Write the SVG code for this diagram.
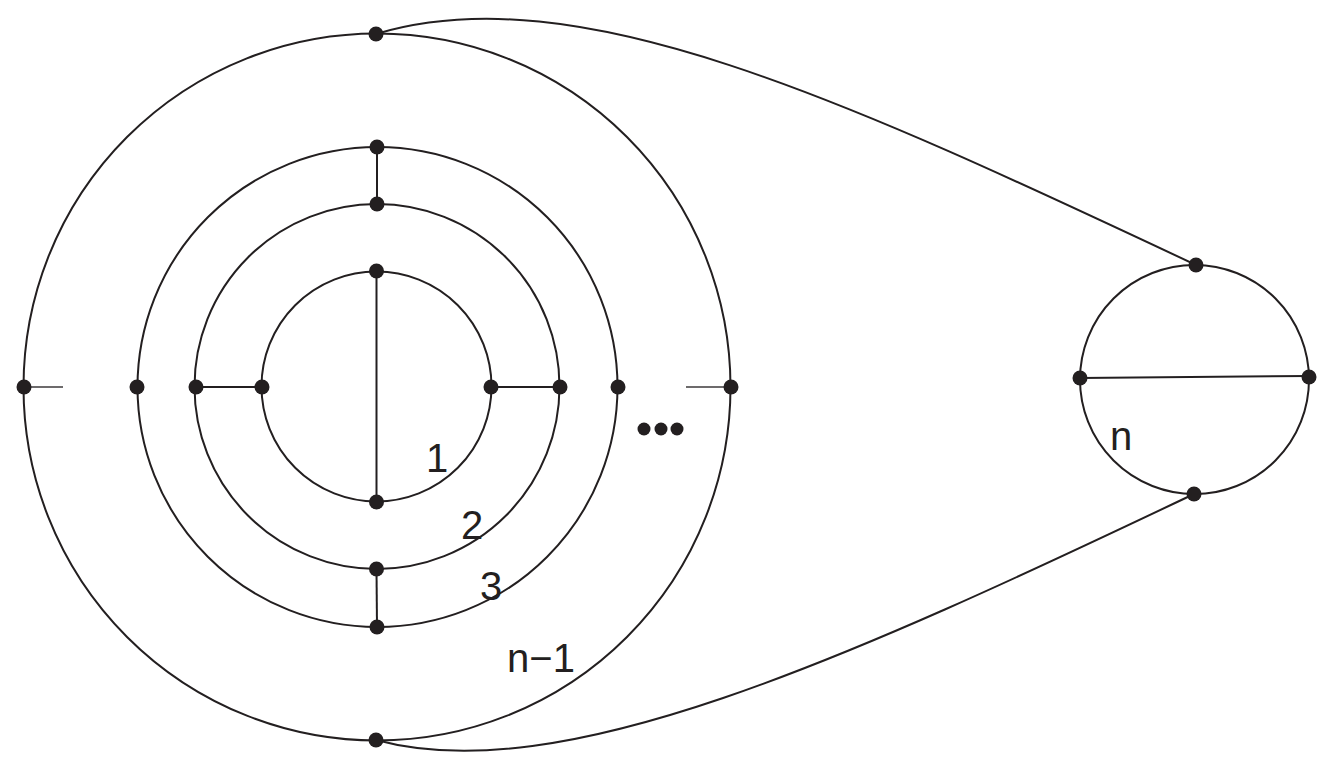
<svg xmlns="http://www.w3.org/2000/svg" width="1334" height="773" viewBox="0 0 1334 773">
<style>
.ring{fill:none;stroke:#231f20;stroke-width:2}
.edge{fill:none;stroke:#231f20;stroke-width:2}
.stub{fill:none;stroke:#6d6b6c;stroke-width:2}
.dot{fill:#231f20}
.lbl{font-family:"Liberation Sans",Arial,sans-serif;font-size:40px;fill:#231f20;text-anchor:middle}
</style>
<rect width="1334" height="773" fill="#fff"/>
<g id="rings">
<circle id="ring1" class="ring" cx="376.5" cy="386.5" r="115"/>
<circle id="ring2" class="ring" cx="377" cy="386.5" r="182.5"/>
<circle id="ring3" class="ring" cx="377.5" cy="387" r="240"/>
<circle id="ringn1" class="ring" cx="377" cy="387" r="353.5"/>
<circle id="ringn" class="ring" cx="1194.5" cy="379.5" r="114.5"/>
</g>
<g id="connectors">
<line class="edge" x1="376.5" y1="271" x2="376.5" y2="502"/>
<line class="edge" x1="196" y1="387" x2="262" y2="387"/>
<line class="edge" x1="491" y1="387" x2="560" y2="387"/>
<line class="edge" x1="377" y1="147" x2="377" y2="204"/>
<line class="edge" x1="376.5" y1="569" x2="377" y2="627"/>
<line class="stub" x1="24" y1="387" x2="63" y2="387"/>
<line class="stub" x1="686" y1="387" x2="731" y2="387"/>
<line class="edge" x1="1080" y1="378" x2="1309" y2="376"/>
<path class="edge" d="M376,34 C576,-26 845,100 1196,265"/>
<path class="edge" d="M376,740 C560,790 845,660 1194,494"/>
</g>
<g id="nodes">
<circle class="dot" cx="376" cy="34" r="7.5"/>
<circle class="dot" cx="376" cy="740" r="7.5"/>
<circle class="dot" cx="24" cy="387" r="7.5"/>
<circle class="dot" cx="731" cy="387" r="7.5"/>
<circle class="dot" cx="137" cy="387" r="7.5"/>
<circle class="dot" cx="618" cy="387" r="7.5"/>
<circle class="dot" cx="196" cy="387" r="7.5"/>
<circle class="dot" cx="560" cy="387" r="7.5"/>
<circle class="dot" cx="262" cy="387" r="7.5"/>
<circle class="dot" cx="491" cy="387" r="7.5"/>
<circle class="dot" cx="377" cy="147" r="7.5"/>
<circle class="dot" cx="377" cy="204" r="7.5"/>
<circle class="dot" cx="376.5" cy="271" r="7.5"/>
<circle class="dot" cx="376.5" cy="502" r="7.5"/>
<circle class="dot" cx="376.5" cy="569" r="7.5"/>
<circle class="dot" cx="377" cy="627" r="7.5"/>
<circle class="dot" cx="1196" cy="265" r="7.5"/>
<circle class="dot" cx="1194" cy="494" r="7.5"/>
<circle class="dot" cx="1080" cy="378" r="7.5"/>
<circle class="dot" cx="1309" cy="377" r="7.5"/>
</g>
<g id="ellipsis">
<circle class="dot" cx="644" cy="429" r="6.5"/>
<circle class="dot" cx="661" cy="429" r="6.5"/>
<circle class="dot" cx="677" cy="429" r="6.5"/>
</g>
<g id="labels">
<text class="lbl" x="437" y="472">1</text>
<text class="lbl" x="472" y="539">2</text>
<text class="lbl" x="491" y="600">3</text>
<text class="lbl" x="541" y="672">n−1</text>
<text class="lbl" x="1121" y="450">n</text>
</g>
</svg>
